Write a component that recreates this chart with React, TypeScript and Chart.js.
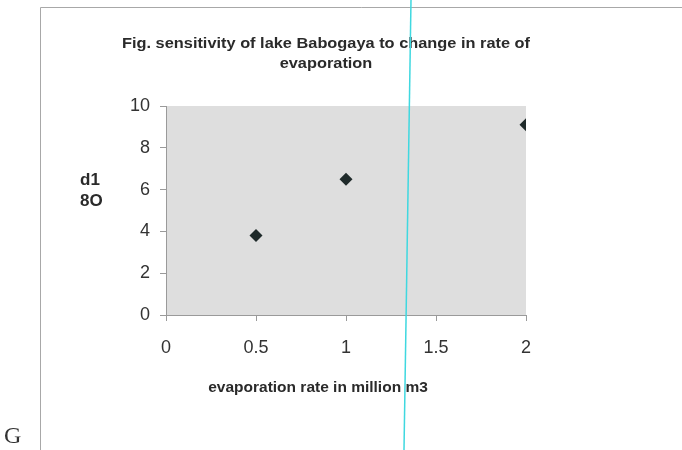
import React, { useEffect, useRef } from "react";
import { Chart, registerables } from "chart.js";

Chart.register(...registerables);

const evaporationRates = [0.5, 1, 2];
const d18OValues = [3.8, 6.5, 9.1];
const xTickLabels = ["0", "0.5", "1", "1.5", "2"];
const titleLines = ["Fig. sensitivity of lake Babogaya to change in rate of", "evaporation"];
const xTitle = "evaporation rate in million m3";
const yTitleLines = ["d1", "8O"];

const decorPlugin = {
  id: "decor",
  beforeDraw(chart: any) {
    const { ctx, chartArea } = chart;
    ctx.save();
    ctx.fillStyle = "#ffffff";
    ctx.fillRect(0, 0, chart.width, chart.height);
    ctx.fillStyle = "#dedede";
    ctx.fillRect(chartArea.left, chartArea.top, chartArea.right - chartArea.left, chartArea.bottom - chartArea.top);
    ctx.strokeStyle = "#a8a8a8";
    ctx.lineWidth = 1;
    ctx.beginPath();
    ctx.moveTo(40.5, 450);
    ctx.lineTo(40.5, 7.5);
    ctx.lineTo(682, 7.5);
    ctx.stroke();
    ctx.restore();
  },
  afterDraw(chart: any) {
    const { ctx } = chart;
    ctx.save();
    ctx.fillStyle = "#2a2a2a";
    ctx.textAlign = "center";
    ctx.textBaseline = "middle";
    ctx.font = "bold 15.5px 'Liberation Sans', Arial, sans-serif";
    ctx.save();
    ctx.translate(326, 0);
    ctx.scale(1.055, 1);
    ctx.fillText(titleLines[0], 0, 44);
    ctx.fillText(titleLines[1], 0, 64);
    ctx.restore();
    ctx.fillText(xTitle, 318, 388);
    ctx.font = "bold 17px 'Liberation Sans', Arial, sans-serif";
    ctx.textAlign = "left";
    ctx.fillText(yTitleLines[0], 80, 180);
    ctx.fillText(yTitleLines[1], 80, 201);
    ctx.font = "24px 'Liberation Serif', 'Times New Roman', serif";
    ctx.fillStyle = "#333333";
    ctx.fillText("G", 4, 437);
    ctx.strokeStyle = "#3fd8e0";
    ctx.lineWidth = 1.5;
    ctx.beginPath();
    ctx.moveTo(411, 0);
    ctx.lineTo(404, 450);
    ctx.stroke();
    ctx.restore();
  },
};

export default function App() {
  const ref = useRef<HTMLCanvasElement | null>(null);
  useEffect(() => {
    if (!ref.current) return;
    const chart = new Chart(ref.current, {
      type: "scatter",
      data: {
        datasets: [
          {
            data: evaporationRates.map((x, i) => ({ x, y: d18OValues[i] })),
            pointStyle: "rectRot",
            pointRadius: 6.5,
            pointHoverRadius: 6.5,
            backgroundColor: "#1f2a2a",
            borderColor: "#1f2a2a",
            borderWidth: 0,
          },
        ],
      },
      options: {
        responsive: false,
        animation: false,
        layout: { padding: { left: 106, right: 156, top: 106, bottom: 95 } },
        plugins: { legend: { display: false }, title: { display: false }, tooltip: { enabled: false } },
        scales: {
          x: {
            type: "linear",
            min: 0,
            max: 2,
            ticks: {
              stepSize: 0.5,
              color: "#333333",
              font: { family: "'Liberation Sans', Arial, sans-serif", size: 18 },
              padding: 16,
              maxRotation: 0,
              callback: (_v: any, i: number) => xTickLabels[i],
            },
            grid: { drawOnChartArea: false, drawTicks: true, tickLength: 6, color: "#9a9a9a" },
            border: { display: true, color: "#9a9a9a" },
            afterFit: (s: any) => {
              s.height = 40;
            },
          },
          y: {
            min: 0,
            max: 10,
            ticks: {
              stepSize: 2,
              color: "#333333",
              font: { family: "'Liberation Sans', Arial, sans-serif", size: 18 },
              padding: 10,
            },
            grid: { drawOnChartArea: false, drawTicks: true, tickLength: 6, color: "#9a9a9a" },
            border: { display: true, color: "#9a9a9a" },
            afterFit: (s: any) => {
              s.width = 60;
            },
          },
        },
      },
      plugins: [decorPlugin],
    });
    return () => chart.destroy();
  }, []);
  return (
    <div style={{ position: "absolute", left: 0, top: 0, width: 682, height: 450 }}>
      <canvas ref={ref} width={682} height={450} style={{ width: 682, height: 450, display: "block" }} />
    </div>
  );
}
